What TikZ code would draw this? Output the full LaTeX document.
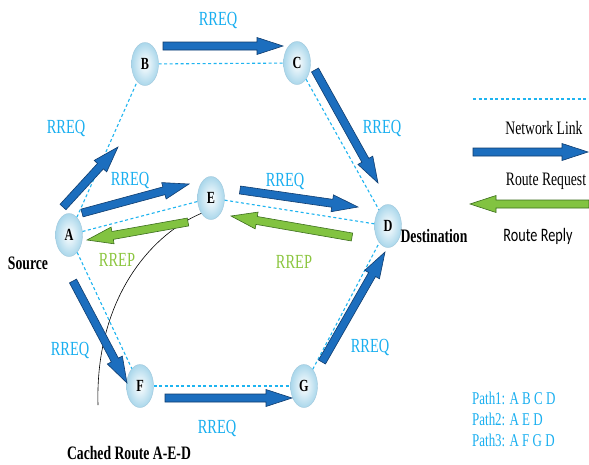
\documentclass[tikz,border=0pt]{standalone}
\usepackage{fontspec}
\usetikzlibrary{calc,shapes.geometric}
\newfontfamily\tnr[FakeStretch=0.72]{Liberation Serif}
\newfontfamily\calfont[FakeStretch=0.75]{Carlito}
\definecolor{reqblue}{RGB}{28,110,190}
\definecolor{reqedge}{RGB}{15,60,110}
\definecolor{repgreen}{RGB}{130,195,65}
\definecolor{repedge}{RGB}{60,110,30}
\definecolor{cyantxt}{RGB}{25,175,240}
\definecolor{linkcol}{RGB}{30,180,240}
\definecolor{greentxt}{RGB}{140,198,63}
\definecolor{nodeout}{RGB}{170,215,235}
\definecolor{nodeedge}{RGB}{160,200,220}
\newcommand\fatarrow[3]{%
  \coordinate (tmpn) at ($(#2)!26pt!(#1)$);
  \path[#3] ($(#1)!4pt!90:(#2)$) -- ($(tmpn)!4pt!-90:(#1)$) -- ($(tmpn)!8.5pt!-90:(#1)$)
    -- (#2) -- ($(tmpn)!8.5pt!90:(#1)$) -- ($(tmpn)!4pt!90:(#1)$) -- ($(#1)!4pt!-90:(#2)$) -- cycle;}
\tikzset{
  netnode/.style={ellipse, minimum width=27pt, minimum height=43pt, inner sep=0pt,
    draw=nodeedge, line width=0.4pt, inner color=white, outer color=nodeout,
    font=\tnr\bfseries\fontsize{17}{19}\selectfont},
  link/.style={draw=linkcol, dash pattern=on 3pt off 2.5pt, line width=1.1pt},
  req/.style={fill=reqblue, draw=reqedge, line width=0.6pt, line join=miter},
  rep/.style={fill=repgreen, draw=repedge, line width=0.6pt, line join=miter},
  lblq/.style={text=cyantxt, font=\tnr\fontsize{20}{22}\selectfont, inner sep=0pt},
  lblp/.style={text=greentxt, font=\tnr\fontsize{20}{22}\selectfont, inner sep=0pt},
  blk/.style={font=\tnr\bfseries\fontsize{19}{21}\selectfont, inner sep=0pt},
  leg/.style={font=\tnr\fontsize{19}{21}\selectfont, inner sep=0pt},
  pathtxt/.style={text=cyantxt, font=\tnr\fontsize{18}{20}\selectfont, inner sep=0pt, anchor=west}
}
\begin{document}
\begin{tikzpicture}[x=1pt,y=-1pt]
\useasboundingbox (0,0) rectangle (589,464);
\fill[white] (0,0) rectangle (589,464);
% nodes
\node[netnode] (A) at (69,235) {A};
\node[netnode] (B) at (145,64) {B};
\node[netnode] (C) at (297,63) {C};
\node[netnode] (D) at (388,226) {D};
\node[netnode] (E) at (211,198) {E};
\node[netnode] (F) at (140,386) {F};
\node[netnode] (G) at (304,386) {G};
% links
\draw[link] (A) -- (B);
\draw[link] (B) -- (C);
\draw[link] (C) -- (D);
\draw[link] (A) -- (E);
\draw[link] (E) -- (D);
\draw[link] (A) -- (F);
\draw[link] (F) -- (G);
\draw[link] (G) -- (D);
% cached route curve
\coordinate (cend) at (98,405);
\draw[black, line width=0.6pt] (E.south west) .. controls (150,235) and (95,300) .. (cend);
% arrow coordinates
\coordinate (bc1) at (163,46); \coordinate (bc2) at (283,46);
\coordinate (ab1) at (63,207); \coordinate (ab2) at (118,147);
\coordinate (cd1) at (315,70); \coordinate (cd2) at (378,183);
\coordinate (ae1) at (82,213); \coordinate (ae2) at (189,184);
\coordinate (ed1) at (240,190); \coordinate (ed2) at (358,207);
\coordinate (de1) at (352,237); \coordinate (de2) at (231,216);
\coordinate (ea1) at (188,222); \coordinate (ea2) at (87,240);
\coordinate (af1) at (73,281); \coordinate (af2) at (127,383);
\coordinate (fg1) at (165,398); \coordinate (fg2) at (292,398);
\coordinate (gd1) at (322,362); \coordinate (gd2) at (385,252);
\coordinate (lb1) at (473,152); \coordinate (lb2) at (588,152);
\coordinate (lg1) at (589,204); \coordinate (lg2) at (470,204);
\coordinate (ld1) at (473,99); \coordinate (ld2) at (589,99);
\fatarrow{bc1}{bc2}{req}
\fatarrow{ab1}{ab2}{req}
\fatarrow{cd1}{cd2}{req}
\fatarrow{ae1}{ae2}{req}
\fatarrow{ed1}{ed2}{req}
\fatarrow{af1}{af2}{req}
\fatarrow{fg1}{fg2}{req}
\fatarrow{gd1}{gd2}{req}
\fatarrow{de1}{de2}{rep}
\fatarrow{ea1}{ea2}{rep}
% legend
\draw[link] (ld1) -- (ld2);
\fatarrow{lb1}{lb2}{req}
\fatarrow{lg1}{lg2}{rep}
\node[leg] (nl) at (544,128) {Network Link};
\node[leg] (rr) at (546,181) {Route Request};
\node[font=\calfont\fontsize{19}{21}\selectfont, inner sep=0pt] (rp) at (538,236) {Route Reply};
% labels
\node[lblq] (q1) at (218,20) {RREQ};
\node[lblq] (q2) at (66,128) {RREQ};
\node[lblq] (q3) at (382,128) {RREQ};
\node[lblq] (q4) at (130,180) {RREQ};
\node[lblq] (q5) at (285,181) {RREQ};
\node[lblq] (q6) at (70,350) {RREQ};
\node[lblq] (q7) at (370,347) {RREQ};
\node[lblq] (q8) at (217,428) {RREQ};
\node[lblp] (p1) at (117,260) {RREP};
\node[lblp] (p2) at (294,262) {RREP};
\node[blk] (src) at (28,263) {Source};
\node[blk] (dst) at (434,236) {Destination};
\node[blk] (cr) at (129,453) {Cached Route A-E-D};
\node[pathtxt] (pa1) at (472,398) {Path1: A B C D};
\node[pathtxt] (pa2) at (472,419) {Path2: A E D};
\node[pathtxt] (pa3) at (472,440) {Path3: A F G D};
\end{tikzpicture}
\end{document}
